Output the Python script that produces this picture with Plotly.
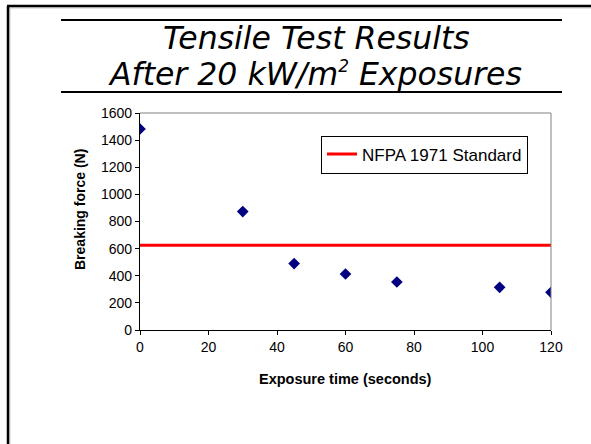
import plotly.graph_objects as go

# Data
exposure_time = [0, 30, 45, 60, 75, 105, 120]
breaking_force = [1482, 873, 490, 413, 354, 315, 278]
standard_x = [0, 30, 45, 60, 75, 105, 120]
standard_y = [625, 625, 625, 625, 625, 625, 625]
x_ticks = [0, 20, 40, 60, 80, 100, 120]
y_ticks = [0, 200, 400, 600, 800, 1000, 1200, 1400, 1600]

W, H = 591, 444
def px(x):
    return x / W
def py(y):
    return 1 - y / H

fig = go.Figure()
fig.add_trace(go.Scatter(
    x=standard_x, y=standard_y, mode="lines", name="NFPA 1971 Standard",
    line=dict(color="#FF0000", width=3), showlegend=True))
fig.add_trace(go.Scatter(
    x=exposure_time, y=breaking_force, mode="markers", name="Data",
    marker=dict(symbol="diamond", color="#000080", size=9), showlegend=False))

axis_font = dict(family="Liberation Sans, Arial", size=14, color="#000000")
fig.update_layout(
    width=W, height=H, autosize=False,
    margin=dict(l=0, r=0, t=0, b=0),
    paper_bgcolor="#FFFFFF", plot_bgcolor="#FFFFFF",
    font=dict(family="Liberation Sans, Arial", color="#000000"),
    xaxis=dict(domain=[px(140), px(551)], range=[0, 120], tickvals=x_ticks,
               showgrid=False, zeroline=False, showline=True, linecolor="#000000",
               linewidth=1.2, ticks="outside", ticklen=4, tickcolor="#000000",
               tickfont=axis_font, automargin=False),
    yaxis=dict(domain=[py(330), py(113)], range=[0, 1600], tickvals=y_ticks,
               showgrid=False, zeroline=False, showline=True, linecolor="#000000",
               linewidth=1.2, ticks="outside", ticklen=4, tickcolor="#000000",
               tickfont=axis_font, automargin=False),
    legend=dict(x=px(321), y=py(135.5), xanchor="left", yanchor="top",
                bgcolor="#FFFFFF", bordercolor="#000000", borderwidth=1,
                font=dict(family="Liberation Sans, Arial", size=17),
                itemwidth=30),
)

shapes = [
    # plot area border (gray top/right)
    dict(type="line", xref="paper", yref="paper", x0=px(140), x1=px(551), y0=py(113), y1=py(113),
         line=dict(color="#808080", width=1)),
    dict(type="line", xref="paper", yref="paper", x0=px(551), x1=px(551), y0=py(113), y1=py(330),
         line=dict(color="#808080", width=1)),
    # slide frame
    dict(type="line", xref="paper", yref="paper", x0=px(7), x1=1, y0=py(6), y1=py(6),
         line=dict(color="#000000", width=2.5)),
    dict(type="line", xref="paper", yref="paper", x0=px(9), x1=1, y0=py(7.8), y1=py(7.8),
         line=dict(color="#A0A0A0", width=1)),
    dict(type="line", xref="paper", yref="paper", x0=px(8), x1=px(8), y0=py(6), y1=0,
         line=dict(color="#000000", width=2.5)),
    dict(type="line", xref="paper", yref="paper", x0=px(9.8), x1=px(9.8), y0=py(8), y1=0,
         line=dict(color="#A0A0A0", width=1)),
    # title rules
    dict(type="line", xref="paper", yref="paper", x0=px(61), x1=px(562), y0=py(20), y1=py(20),
         line=dict(color="#000000", width=2)),
    dict(type="line", xref="paper", yref="paper", x0=px(61), x1=px(562), y0=py(92), y1=py(92),
         line=dict(color="#000000", width=2)),
]
fig.update_layout(shapes=shapes)

title_font = dict(family="DejaVu Sans", size=31.5, color="#000000", style="italic")
fig.add_annotation(text="Tensile Test Results", xref="paper", yref="paper",
                   x=px(316), y=py(38), xanchor="center", yanchor="middle",
                   showarrow=False, font=title_font)
fig.add_annotation(text="After 20 kW/m<sup><span style='font-size:17px'>2</span></sup> Exposures",
                   xref="paper", yref="paper",
                   x=px(315), y=py(74), xanchor="center", yanchor="middle",
                   showarrow=False, font=title_font)

# axis titles
fig.add_annotation(text="<b>Exposure time (seconds)</b>", xref="paper", yref="paper",
                   x=px(345), y=py(379), xanchor="center", yanchor="middle",
                   showarrow=False, font=dict(family="Liberation Sans, Arial", size=14.5))
fig.add_annotation(text="<b>Breaking force (N)</b>", xref="paper", yref="paper",
                   x=px(80), y=py(210), xanchor="center", yanchor="middle", textangle=-90,
                   showarrow=False, font=dict(family="Liberation Sans, Arial", size=14))

fig.write_html("out.html")
